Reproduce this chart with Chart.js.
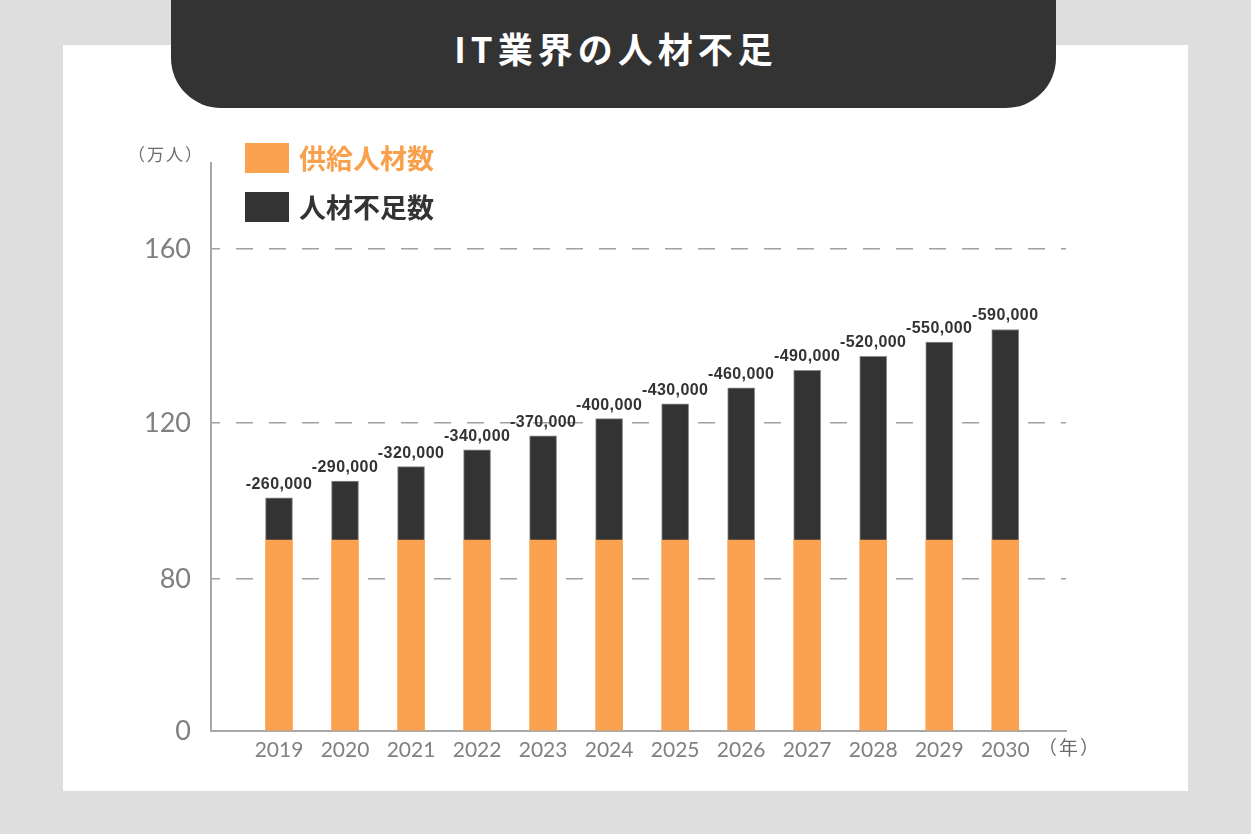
<!DOCTYPE html>
<html>
<head>
<meta charset="utf-8">
<script src="https://cdn.jsdelivr.net/npm/chart.js@4"></script>
<style>
html,body{margin:0;padding:0;}
body{width:1251px;height:834px;background:#dedede;position:relative;overflow:hidden;font-family:"Noto Sans CJK JP","Noto Sans",sans-serif;}
#panel{position:absolute;left:63px;top:45px;width:1125px;height:746px;background:#fff;}
#title{position:absolute;left:171px;top:0;width:885px;height:108px;background:#333333;border-radius:0 0 50px 50px;color:#fff;font-weight:700;font-size:35px;letter-spacing:5px;text-align:center;line-height:96px;box-sizing:border-box;padding-left:5px;}
#chart{position:absolute;left:0;top:0;}
.box{position:absolute;width:44px;height:30px;}
.lgtext{position:absolute;font-weight:700;font-size:27px;line-height:30px;white-space:nowrap;}
.unit{position:absolute;color:#6b6b6b;font-size:17px;line-height:20px;letter-spacing:2px;white-space:nowrap;}
</style>
</head>
<body>
<div id="panel"></div>
<div id="title">IT業界の人材不足</div>
<canvas id="chart" width="1251" height="834"></canvas>
<div class="box" style="left:245px;top:143px;background:#FAA24F;"></div>
<div class="lgtext" id="lg1" style="left:299px;top:143px;color:#F9A04C;"></div>
<div class="box" style="left:245px;top:192px;background:#333333;"></div>
<div class="lgtext" id="lg2" style="left:299px;top:192px;color:#333333;"></div>
<div class="unit" style="left:128px;top:144px;">（万人）</div>
<div class="unit" style="left:1038px;top:737px;font-size:19px;">（年）</div>
<script>
// ---- data ----
const years = [2019, 2020, 2021, 2022, 2023, 2024, 2025, 2026, 2027, 2028, 2029, 2030];
const supplyValues = [90, 90, 90, 90, 90, 90, 90, 90, 90, 90, 90, 90];           // 供給人材数 (axis units, 万人)
const totalValues = [100.8, 105.1, 108.8, 113.1, 116.7, 121.0, 124.4, 128.1, 132.1, 135.3, 138.6, 141.5]; // bar tops (axis units)
const shortageCounts = [-260000, -290000, -320000, -340000, -370000, -400000, -430000, -460000, -490000, -520000, -550000, -590000];
const yTickValues = [0, 80, 120, 160];
const seriesNames = ['供給人材数', '人材不足数'];

document.getElementById('lg1').textContent = seriesNames[0];
document.getElementById('lg2').textContent = seriesNames[1];

// ---- broken (non-uniform) value axis, as drawn in the original ----
const axisStops = [0, 80, 120, 160];
const axisPos = [0, 152, 308, 482];
function toAxis(v){
  for (let i = 1; i < axisStops.length; i++){
    if (v <= axisStops[i]){
      const a = axisStops[i-1], b = axisStops[i];
      return axisPos[i-1] + (v - a) / (b - a) * (axisPos[i] - axisPos[i-1]);
    }
  }
  const n = axisStops.length - 1;
  const slope = (axisPos[n] - axisPos[n-1]) / (axisStops[n] - axisStops[n-1]);
  return axisPos[n] + (v - axisStops[n]) * slope;
}
function fromAxis(p){
  for (let i = 1; i < axisPos.length; i++){
    if (p <= axisPos[i] + 0.001){
      return Math.round(axisStops[i-1] + (p - axisPos[i-1]) / (axisPos[i] - axisPos[i-1]) * (axisStops[i] - axisStops[i-1]));
    }
  }
  return p;
}

const supplyData = years.map((y, i) => ({x: y, y: [0, toAxis(supplyValues[i])]}));
const shortageData = years.map((y, i) => ({x: y, y: [toAxis(supplyValues[i]), toAxis(totalValues[i])]}));

const fmt = n => n.toLocaleString('en-US');

const barLabels = {
  id: 'barLabels',
  afterDatasetsDraw(chart){
    const meta = chart.getDatasetMeta(1);
    const ctx = chart.ctx;
    ctx.save();
    ctx.font = 'bold 16px "Liberation Sans", Arial, sans-serif';
    try { ctx.letterSpacing = '0.4px'; } catch(e) {}
    ctx.fillStyle = '#333333';
    ctx.textAlign = 'center';
    ctx.textBaseline = 'alphabetic';
    meta.data.forEach((el, i) => {
      ctx.fillText(fmt(shortageCounts[i]), el.x, el.y - 9);
    });
    ctx.restore();
  }
};

new Chart(document.getElementById('chart'), {
  type: 'bar',
  data: {
    datasets: [
      { label: seriesNames[0], data: supplyData, backgroundColor: '#FAA24F', borderWidth: 0, barThickness: 27, grouped: false },
      { label: seriesNames[1], data: shortageData, backgroundColor: '#333333', borderColor: '#8c8c8c', borderWidth: 1, borderSkipped: 'bottom', barThickness: 27, grouped: false }
    ]
  },
  options: {
    responsive: false,
    devicePixelRatio: 1,
    animation: false,
    layout: { padding: { left: 131, right: 185, top: 163, bottom: 63 } },
    plugins: { legend: { display: false }, tooltip: { enabled: false } },
    scales: {
      x: {
        type: 'linear',
        offset: false,
        min: 2017.97,
        max: 2030.92,
        afterBuildTicks: s => { s.ticks = years.map(v => ({value: v})); },
        afterFit: s => { s.height = 40; },
        grid: { display: false, drawTicks: false, offset: false },
        border: { display: true, color: '#a8a8a8', width: 2 },
        ticks: {
          autoSkip: false,
          maxRotation: 0,
          padding: 7,
          color: '#808080',
          font: { family: 'Lato, "Noto Sans", sans-serif', size: 21, weight: '400' },
          callback: v => String(v)
        }
      },
      y: {
        type: 'linear',
        min: 0,
        max: 568,
        afterBuildTicks: s => { s.ticks = yTickValues.map(v => ({value: toAxis(v)})); },
        afterFit: s => { s.width = 80; },
        grid: {
          drawTicks: false,
          color: c => (c.tick && c.tick.value === 0) ? 'rgba(0,0,0,0)' : '#a0a0a0',
          lineWidth: 1.5
        },
        border: { display: true, color: '#a8a8a8', width: 2, dash: [17, 16], dashOffset: 9 },
        ticks: {
          autoSkip: false,
          padding: 20,
          color: '#808080',
          font: { family: 'Lato, "Noto Sans", sans-serif', size: 27, weight: '400' },
          callback: v => String(fromAxis(v))
        }
      }
    }
  },
  plugins: [barLabels]
});
</script>
</body>
</html>
